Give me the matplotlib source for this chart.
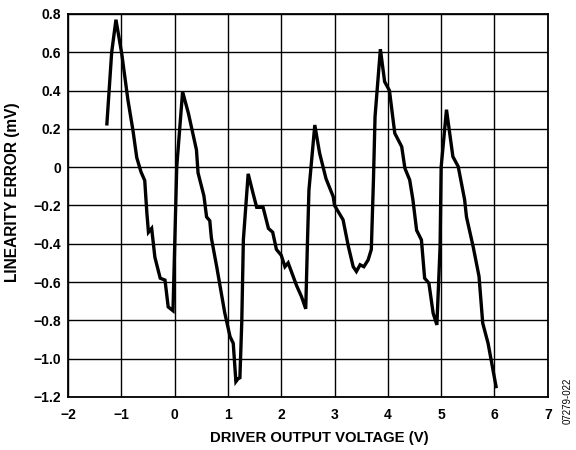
import matplotlib
matplotlib.use("Agg")
import matplotlib.pyplot as plt

plt.rcParams['font.family'] = ['Liberation Sans', 'DejaVu Sans']

# driver output voltage (V)
volts = [-1.27, -1.18, -1.10, -0.99, -0.875, -0.78, -0.71, -0.63, -0.56, -0.52,
         -0.49, -0.43, -0.37, -0.27, -0.18, -0.12, -0.03, 0.04, 0.15, 0.26,
         0.41, 0.44, 0.55, 0.60, 0.66, 0.69, 0.79, 0.94, 1.04, 1.10,
         1.15, 1.19, 1.225, 1.26, 1.29, 1.38, 1.47, 1.54, 1.66, 1.76,
         1.84, 1.91, 2.00, 2.07, 2.13, 2.29, 2.38, 2.46, 2.49, 2.52,
         2.63, 2.72, 2.84, 2.975, 3.00, 3.16, 3.26, 3.35, 3.41, 3.48,
         3.55, 3.63, 3.69, 3.73, 3.76, 3.86, 3.94, 4.03, 4.13, 4.26,
         4.32, 4.41, 4.47, 4.54, 4.63, 4.69, 4.77, 4.85, 4.92, 4.98,
         5.00, 5.10, 5.22, 5.32, 5.44, 5.475, 5.60, 5.71, 5.78, 5.88,
         6.03]
# linearity error (mV)
error = [0.226, 0.60, 0.77, 0.59, 0.35, 0.19, 0.05, -0.025, -0.07, -0.24,
         -0.34, -0.32, -0.47, -0.58, -0.59, -0.73, -0.75, 0.0, 0.394, 0.28,
         0.09, -0.03, -0.15, -0.26, -0.28, -0.37, -0.52, -0.76, -0.885, -0.92,
         -1.12, -1.105, -1.10, -0.81, -0.38, -0.035, -0.135, -0.21, -0.21, -0.32,
         -0.34, -0.43, -0.46, -0.52, -0.50, -0.62, -0.676, -0.74, -0.415, -0.12,
         0.22, 0.073, -0.06, -0.154, -0.20, -0.275, -0.415, -0.52, -0.545, -0.51,
         -0.52, -0.485, -0.43, -0.067, 0.264, 0.616, 0.446, 0.40, 0.177, 0.107,
         -0.006, -0.067, -0.17, -0.33, -0.38, -0.58, -0.606, -0.763, -0.824, -0.415,
         0.0, 0.30, 0.055, 0.003, -0.17, -0.26, -0.415, -0.57, -0.815, -0.92,
         -1.146]

xticks = [-2, -1, 0, 1, 2, 3, 4, 5, 6, 7]
yticks = [0.8, 0.6, 0.4, 0.2, 0, -0.2, -0.4, -0.6, -0.8, -1.0, -1.2]
xlabels = ['\u22122', '\u22121', '0', '1', '2', '3', '4', '5', '6', '7']
ylabels = ['0.8', '0.6', '0.4', '0.2', '0', '\u22120.2', '\u22120.4', '\u22120.6',
           '\u22120.8', '\u22121.0', '\u22121.2']

fig = plt.figure(figsize=(5.76, 4.5), dpi=100)
ax = fig.add_axes([0.118, 0.118, 0.833, 0.851])
ax.plot(volts, error, color='black', linewidth=2.4, solid_joinstyle='miter')
ax.set_xlim(-2, 7)
ax.set_ylim(-1.2, 0.8)
ax.set_xticks(xticks)
ax.set_xticklabels(xlabels, fontsize=10, fontweight='bold')
ax.set_yticks(yticks)
ax.set_yticklabels(ylabels, fontsize=10, fontweight='bold')
ax.tick_params(length=0)
ax.tick_params(axis='x', pad=8)
ax.tick_params(axis='y', pad=5)
ax.grid(color='black', linewidth=1.0)
for s in ax.spines.values():
    s.set_linewidth(1.3)
ax.set_xlabel('DRIVER OUTPUT VOLTAGE (V)', fontsize=10.7, fontweight='bold')
ax.xaxis.set_label_coords(0.523, -0.089)
ax.set_ylabel('LINEARITY ERROR (mV)', fontsize=11.2, fontweight='bold', va='center')
ax.yaxis.set_label_coords(-0.115, 0.535)
fig.text(0.985, 0.11, '07279-022', rotation=90, fontsize=7, ha='center', va='center')

fig.savefig('out.png', dpi=100)
